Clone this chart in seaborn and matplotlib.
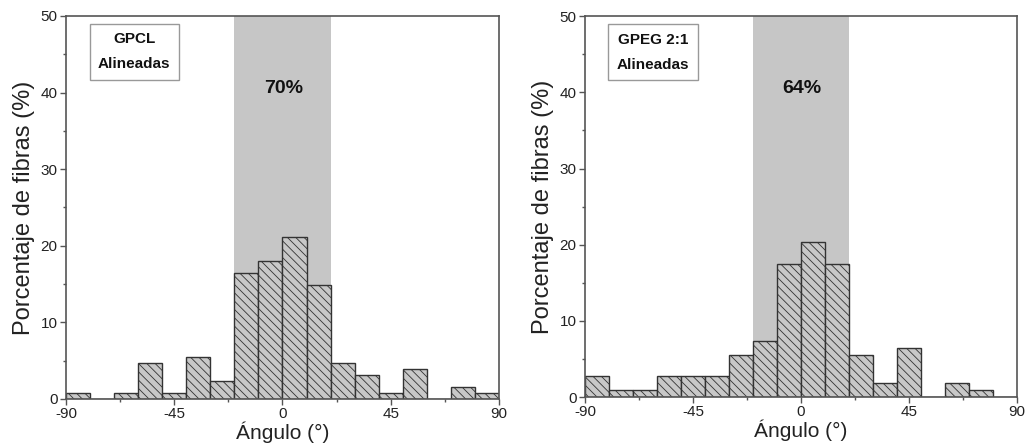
import numpy as np
import pandas as pd
import matplotlib
matplotlib.use("Agg")
import matplotlib.pyplot as plt
from matplotlib.ticker import MultipleLocator
import seaborn as sns

# ---- data ----
bin_edges = list(range(-90, 91, 10))
bin_centers = [-85, -75, -65, -55, -45, -35, -25, -15, -5, 5, 15, 25, 35, 45, 55, 65, 75, 85]
gpcl_pct = [0.75, 0, 0.75, 4.7, 0.75, 5.5, 2.4, 16.5, 18.0, 21.2, 14.9, 4.7, 3.1, 0.75, 3.9, 0, 1.55, 0.75]
gpeg_pct = [2.76, 0.92, 0.92, 2.76, 2.76, 2.76, 5.5, 7.4, 17.5, 20.3, 17.5, 5.5, 1.84, 6.45, 0, 1.84, 0.92, 0]
panel_labels = ["GPCL\nAlineadas", "GPEG 2:1\nAlineadas"]
aligned_pct = ["70%", "64%"]
aligned_range = [-20, 20]
xticks = [-90, -45, 0, 45, 90]
yticks = [0, 10, 20, 30, 40, 50]
xlabel = "Ángulo (°)"
ylabel = "Porcentaje de fibras (%)"

sns.set_style("ticks")
plt.rcParams["font.family"] = ["Liberation Sans", "DejaVu Sans"]
plt.rcParams["axes.unicode_minus"] = False
plt.rcParams["hatch.color"] = "#555555"
plt.rcParams["hatch.linewidth"] = 0.6

fig = plt.figure(figsize=(10.25, 4.48), dpi=100)
axes = [fig.add_axes([0.0644, 0.1094, 0.4224, 0.855]),
        fig.add_axes([0.5707, 0.1138, 0.4215, 0.850])]

for ax, vals, lab, pct in zip(axes, [gpcl_pct, gpeg_pct], panel_labels, aligned_pct):
    ax.axvspan(aligned_range[0], aligned_range[1], color="#c6c6c6", zorder=0, lw=0)
    n_before = len(ax.patches)
    df = pd.DataFrame({"angle": bin_centers, "pct": vals})
    sns.histplot(data=df, x="angle", weights="pct", bins=bin_edges, ax=ax,
                 color="#c8c8c8", edgecolor="#333333", linewidth=1.0, alpha=1.0)
    for p in ax.patches[n_before:]:
        p.set_hatch("\\\\\\\\")
        p.set_zorder(2)
    ax.set_xlim(-90, 90)
    ax.set_ylim(0, 50)
    ax.set_xticks(xticks)
    ax.set_yticks(yticks)
    ax.xaxis.set_minor_locator(MultipleLocator(22.5))
    ax.yaxis.set_minor_locator(MultipleLocator(5))
    ax.tick_params(which="major", direction="out", length=4, width=1, colors="#555555",
                   labelcolor="#222222", labelsize=11, pad=2)
    ax.tick_params(which="minor", direction="out", length=2.5, width=1, colors="#555555")
    for s in ax.spines.values():
        s.set_color("#555555")
        s.set_linewidth(1.2)
        s.set_zorder(3)
    ax.set_xlabel(xlabel, fontsize=15, color="#222222", labelpad=0)
    ax.set_ylabel(ylabel, fontsize=17, color="#222222", labelpad=4)
    ax.text(-61.6, 45.3, lab, ha="center", va="center", fontsize=11, fontweight="bold",
            linespacing=2.0, color="#111111", zorder=4,
            bbox=dict(boxstyle="square,pad=0.55", fc="white", ec="#999999", lw=1))
    ax.text(0.3, 40.5, pct, ha="center", va="center", fontsize=14, fontweight="bold",
            color="#111111", zorder=4)

fig.savefig("out.png", dpi=100)
